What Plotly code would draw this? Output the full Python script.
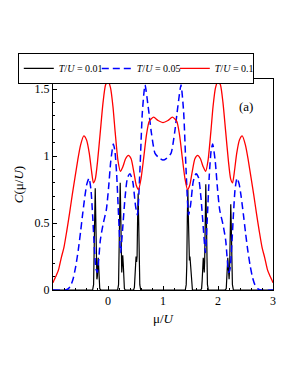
import plotly.graph_objects as go

# ---- data ----
red_mu = [-1.0, -0.95, -0.9, -0.85, -0.8, -0.75, -0.7, -0.65, -0.6, -0.55, -0.5, -0.44, -0.39, -0.34,
          -0.3, -0.265, -0.23, -0.19, -0.14, -0.09, -0.045, 0.0, 0.045, 0.09, 0.13, 0.18, 0.225, 0.27,
          0.32, 0.37, 0.42, 0.47, 0.515, 0.555, 0.6, 0.65, 0.7, 0.75, 0.83, 0.91, 1.0,
          1.09, 1.17, 1.25, 1.3, 1.35, 1.4, 1.445, 1.485, 1.53, 1.58, 1.63, 1.68, 1.73, 1.775, 1.82,
          1.87, 1.91, 1.955, 2.0, 2.045, 2.09, 2.14, 2.19, 2.23, 2.265, 2.3, 2.34, 2.39, 2.44, 2.5,
          2.55, 2.6, 2.65, 2.7, 2.75, 2.8, 2.85, 2.9, 2.95, 3.0]
red_c = [0.055, 0.10, 0.15, 0.24, 0.32, 0.44, 0.57, 0.71, 0.84, 0.97, 1.08, 1.15, 1.12, 1.02,
         0.89, 0.80, 0.83, 0.96, 1.18, 1.40, 1.53, 1.56, 1.51, 1.37, 1.18, 0.97, 0.885, 0.92,
         0.98, 1.005, 0.98, 0.88, 0.78, 0.75, 0.83, 0.99, 1.16, 1.26, 1.29, 1.265, 1.25,
         1.265, 1.29, 1.26, 1.16, 0.99, 0.83, 0.75, 0.78, 0.88, 0.98, 1.005, 0.98, 0.92, 0.885, 0.97,
         1.18, 1.37, 1.51, 1.56, 1.53, 1.40, 1.18, 0.96, 0.83, 0.80, 0.89, 1.02, 1.12, 1.15, 1.08,
         0.97, 0.84, 0.71, 0.57, 0.44, 0.32, 0.24, 0.15, 0.10, 0.055]

blue_mu = [-1.0, -0.78, -0.72, -0.67, -0.63, -0.585, -0.54, -0.5, -0.46, -0.42, -0.385, -0.345,
           -0.31, -0.28, -0.25, -0.22, -0.195, -0.17, -0.14, -0.09, -0.03, 0.01, 0.05, 0.097, 0.125,
           0.158, 0.195, 0.23, 0.265, 0.31, 0.355, 0.4, 0.45, 0.5, 0.535, 0.58, 0.625, 0.673, 0.73,
           0.79, 0.855, 0.93, 1.0,
           1.07, 1.145, 1.21, 1.27, 1.327, 1.375, 1.42, 1.465, 1.5, 1.55, 1.6, 1.645, 1.69, 1.735,
           1.77, 1.805, 1.842, 1.875, 1.903, 1.95, 1.99, 2.03, 2.09, 2.14, 2.17, 2.195, 2.22, 2.25,
           2.28, 2.31, 2.345, 2.385, 2.42, 2.46, 2.5, 2.54, 2.585, 2.63, 2.67, 2.72, 2.78, 3.0]
blue_c = [0.0, 0.0, 0.01, 0.04, 0.09, 0.18, 0.30, 0.43, 0.57, 0.70, 0.79, 0.835,
          0.75, 0.56, 0.33, 0.16, 0.13, 0.22, 0.37, 0.49, 0.60, 0.76, 0.96, 1.09, 1.04,
          0.86, 0.53, 0.28, 0.45, 0.69, 0.84, 0.868, 0.81, 0.63, 0.56, 0.89, 1.33, 1.53, 1.37,
          1.17, 1.02, 0.985, 0.97,
          0.985, 1.02, 1.17, 1.37, 1.53, 1.33, 0.89, 0.56, 0.63, 0.81, 0.868, 0.84, 0.69, 0.45,
          0.28, 0.53, 0.86, 1.04, 1.09, 0.96, 0.76, 0.60, 0.49, 0.37, 0.22, 0.13, 0.16, 0.33,
          0.56, 0.75, 0.835, 0.79, 0.70, 0.57, 0.43, 0.30, 0.18, 0.09, 0.04, 0.01, 0.0, 0.0]

black_mu = [-1.0,
            -0.28, -0.262, -0.252, -0.242, -0.232, -0.222, -0.212, -0.202, -0.194, -0.186, -0.178,
            -0.17, -0.16, -0.15, -0.13,
            0.175, 0.192, 0.202, 0.212, 0.222, 0.232, 0.242, 0.25, 0.258, 0.268, 0.278, 0.288, 0.298, 0.315,
            0.465, 0.48, 0.49, 0.50, 0.51, 0.52, 0.529, 0.538, 0.548, 0.558, 0.568, 0.578, 0.595,
            1.405, 1.422, 1.432, 1.442, 1.452, 1.462, 1.471, 1.48, 1.49, 1.50, 1.51, 1.52, 1.535,
            1.685, 1.702, 1.712, 1.722, 1.732, 1.742, 1.75, 1.758, 1.768, 1.778, 1.788, 1.798, 1.808, 1.825,
            2.13, 2.15, 2.16, 2.17, 2.178, 2.186, 2.194, 2.202, 2.212, 2.222, 2.232, 2.242, 2.252,
            2.262, 2.28,
            3.0]
black_c = [0.0,
           0.0, 0.04, 0.19, 0.54, 0.76, 0.54, 0.19, 0.08, 0.10, 0.18, 0.24,
           0.18, 0.07, 0.01, 0.0,
           0.0, 0.04, 0.20, 0.57, 0.80, 0.57, 0.22, 0.13, 0.19, 0.26, 0.19, 0.07, 0.01, 0.0,
           0.0, 0.02, 0.08, 0.19, 0.25, 0.21, 0.25, 0.52, 0.72, 0.51, 0.18, 0.04, 0.0,
           0.0, 0.04, 0.18, 0.53, 0.75, 0.53, 0.26, 0.22, 0.25, 0.19, 0.08, 0.02, 0.0,
           0.0, 0.01, 0.07, 0.18, 0.24, 0.18, 0.13, 0.22, 0.56, 0.79, 0.56, 0.20, 0.04, 0.0,
           0.0, 0.01, 0.07, 0.18, 0.24, 0.18, 0.10, 0.08, 0.17, 0.46, 0.64, 0.46, 0.17,
           0.04, 0.0,
           0.0]

series_names = ["<i>T</i>/<i>U</i> = 0.01", "<i>T</i>/<i>U</i> = 0.05", "<i>T</i>/<i>U</i> = 0.1"]
x_ticks = [0, 1, 2, 3]
y_ticks = [0, 0.5, 1, 1.5]
y_tick_text = ["0", "0.5", "1", "1.5"]

FONT = "Liberation Serif"

fig = go.Figure()
fig.add_trace(go.Scatter(x=black_mu, y=black_c, mode="lines", name=series_names[0],
                         line=dict(color="black", width=1.2)))
fig.add_trace(go.Scatter(x=blue_mu, y=blue_c, mode="lines", name=series_names[1],
                         line=dict(color="#0000ff", width=1.5, dash="7px,4px", shape="spline",
                                   smoothing=0.6)))
fig.add_trace(go.Scatter(x=red_mu, y=red_c, mode="lines", name=series_names[2],
                         line=dict(color="#ff0000", width=1.3, shape="spline", smoothing=0.6)))

# the page body adds an 8px offset, so the figure is sized/margined to compensate
fig.update_layout(
    width=290, height=377,
    margin=dict(l=45, r=25, t=71, b=95, autoexpand=False),
    paper_bgcolor="white", plot_bgcolor="white",
    font=dict(family=FONT, size=12, color="black"),
    showlegend=True,
    legend=dict(orientation="h", x=-0.16, xanchor="left", y=1.05, yanchor="middle",
                bordercolor="black", borderwidth=1, font=dict(size=10, family=FONT),
                itemwidth=30, entrywidth=33, tracegroupgap=0, bgcolor="white"),
    annotations=[dict(text="(a)", x=0.92, y=0.915, xref="paper", yref="paper",
                      showarrow=False, font=dict(size=13, family=FONT))],
)
fig.update_xaxes(range=[-1, 3], tickvals=x_ticks, ticks="inside", ticklen=4, tickcolor="black",
                 showline=True, linecolor="black", linewidth=1, mirror=True, showgrid=False,
                 zeroline=False, tickfont=dict(size=12, family=FONT),
                 minor=dict(ticks="inside", ticklen=2, dtick=0.2, tickcolor="black", showgrid=False),
                 title=dict(text="μ/<i>U</i>", font=dict(size=13, family=FONT), standoff=6))
fig.update_yaxes(range=[0, 1.575], tickvals=y_ticks, ticktext=y_tick_text, ticks="inside",
                 ticklen=4, tickcolor="black",
                 showline=True, linecolor="black", linewidth=1, mirror=True, showgrid=False,
                 zeroline=False, tickfont=dict(size=12, family=FONT),
                 minor=dict(ticks="inside", ticklen=2, dtick=0.1, tickcolor="black", showgrid=False),
                 title=dict(text="<i>C</i>(μ/<i>U</i>)", font=dict(size=13, family=FONT), standoff=8))

fig.write_html("out.html")
